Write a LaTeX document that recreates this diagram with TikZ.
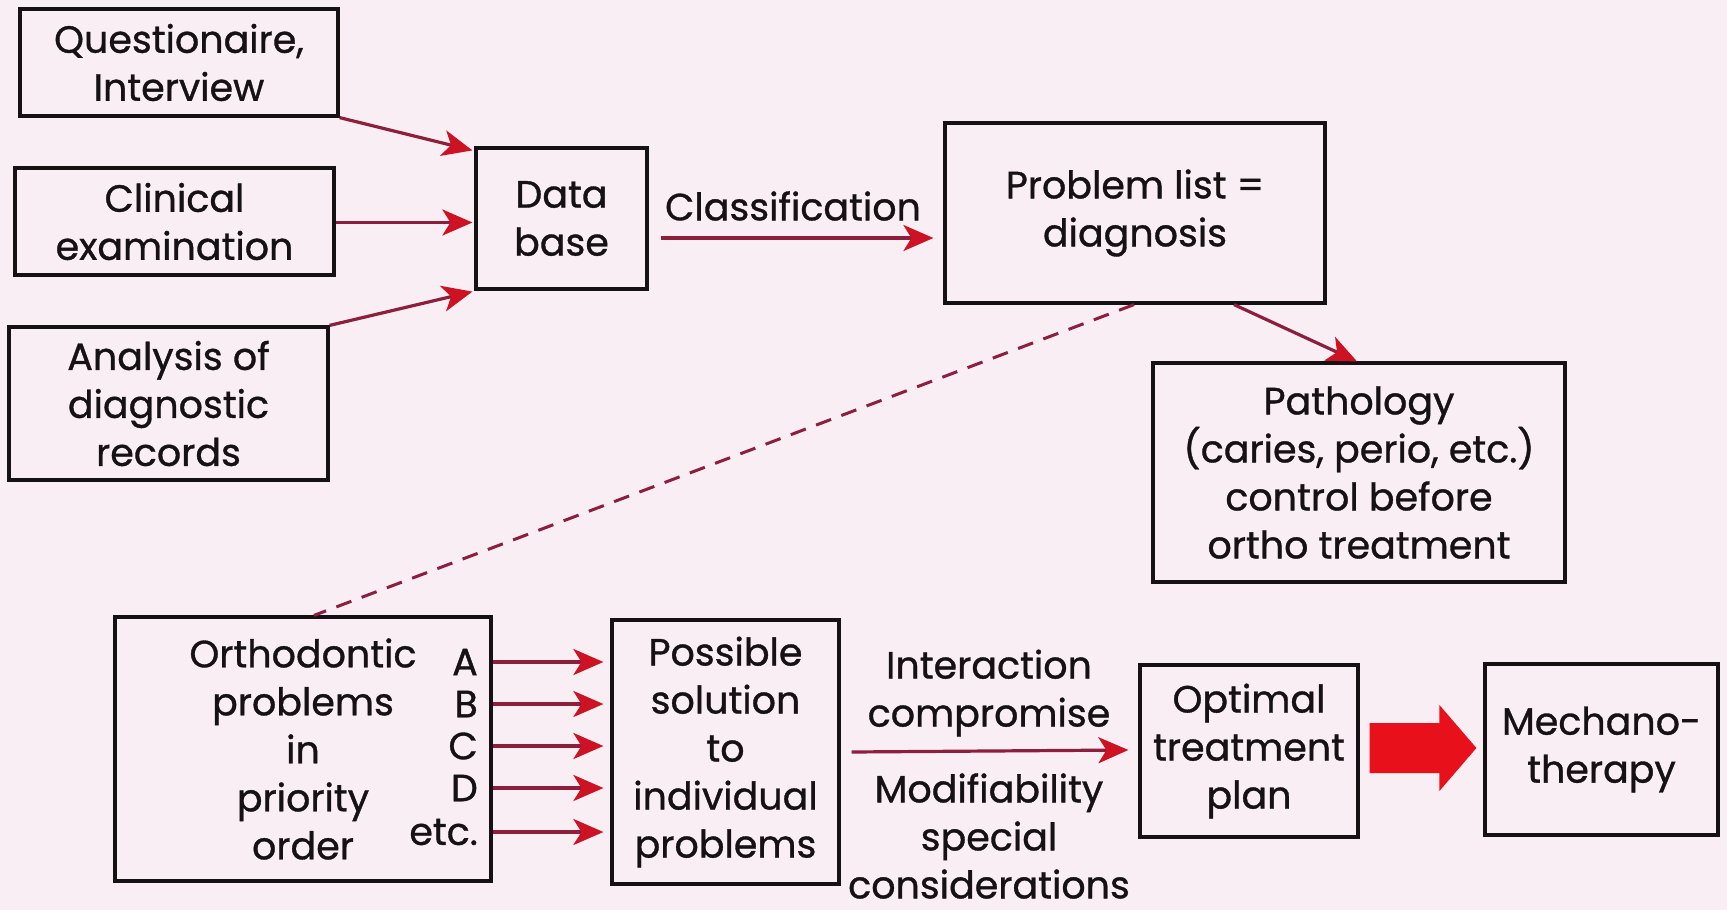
\documentclass[tikz,border=0pt]{standalone}
\usepackage{fontspec}
\setmainfont{Poppins}[FakeBold=0.9]
\usetikzlibrary{arrows.meta,calc}
\definecolor{bgpink}{RGB}{249,238,244}
\definecolor{lnred}{RGB}{140,30,62}
\definecolor{tipred}{RGB}{205,18,36}
\definecolor{bigred}{RGB}{232,16,26}
\definecolor{ink}{RGB}{22,18,20}
\begin{document}
\begin{tikzpicture}[x=1pt,y=-1pt,
  box/.style={draw=ink, line width=3.2pt, align=center, inner sep=0pt, text=ink,
    font=\fontsize{38}{48}\selectfont},
  lbl/.style={align=center, inner sep=0pt, text=ink, font=\fontsize{38}{48}\selectfont},
  arr/.style={draw=lnred, line width=3.2pt,
    -{Stealth[length=30pt,width=26pt,inset=8pt,color=tipred]}},
  dsh/.style={draw=lnred, line width=3pt, dash pattern=on 16pt off 11pt}]
\fill[bgpink] (0,0) rectangle (1727,910);
\useasboundingbox (0,0) rectangle (1727,910);

% top-left inputs
\node[box, minimum width=318pt, minimum height=107pt] (q) at (179,62.5) {Questionaire,\\Interview};
\node[box, minimum width=319pt, minimum height=107pt] (ce) at (174.5,221.5) {Clinical\\examination};
\node[box, minimum width=319pt, minimum height=153pt] (an) at (168.5,403.5) {Analysis of\\diagnostic\\records};
\node[box, minimum width=171pt, minimum height=141pt] (db) at (561.5,218.5) {Data\\base};
\node[box, minimum width=380pt, minimum height=180pt] (pl) at (1135,213) {Problem list =\\diagnosis};
\node[box, minimum width=412pt, minimum height=219pt] (pa) at (1359,472.5) {Pathology\\(caries, perio, etc.)\\control before\\ortho treatment};

% bottom row
\node[box, minimum width=376pt, minimum height=264pt, text width=376pt] (or) at (303,749) {Orthodontic\\problems\\in\\priority\\order};
\node[box, minimum width=227pt, minimum height=264pt] (ps) at (725.5,752) {Possible\\solution\\to\\individual\\problems};
\node[box, minimum width=218pt, minimum height=172pt] (op) at (1249,751) {Optimal\\treatment\\plan};
\node[box, minimum width=233pt, minimum height=171pt] (me) at (1601.5,749.5) {Mechano-\\therapy};

% letters
\node[lbl, anchor=east] (la) at (478,662) {A};
\node[lbl, anchor=east] (lb) at (478,704) {B};
\node[lbl, anchor=east] (lc) at (478,746) {C};
\node[lbl, anchor=east] (ld) at (478,788) {D};
\node[lbl, anchor=east] (le) at (478,832) {etc.};

% labels
\node[lbl] (cls) at (793,206) {Classification};
\node[lbl] (ic) at (989,693) {Interaction\\compromise};
\node[lbl] (ms) at (989,836) {Modifiability\\special\\considerations};

% connectors
\draw[arr] (q.south east) -- ($(db.north west)+(-2,4)$);
\draw[arr] ($(ce.east)+(0,1)$) -- ($(db.west)+(-2,4)$);
\draw[arr] (an.north east) -- ($(db.south west)+(-2,1)$);
\draw[arr] ($(db.east)+(12,19.5)$) -- ($(pl.west)+(-10,25)$);
\draw[arr] ($(pl.south)+(99,0)$) -- ($(pa.north)+(-2,0)$);
\draw[dsh] ($(pl.south)+(-1,0)$) -- ($(or.north)+(11,0)$);

\foreach \l in {la,lb,lc,ld,le}{
  \draw[arr] (or.east |- \l) -- ($(ps.west |- \l)+(-7,0)$);
}
\draw[arr] ($(ps.east)+(11,0)$) -- ($(op.west)+(-10,-1)$);

% big arrow
\coordinate (bs) at ($(op.east)+(10,-3)$);
\coordinate (bt) at ($(me.west)+(-7,-1.5)$);
\fill[bigred] ($(bs)+(0,-25)$) -- ($(bt)+(-37,-25)$) -- ($(bt)+(-37,-43)$) -- (bt)
  -- ($(bt)+(-37,43)$) -- ($(bt)+(-37,25)$) -- ($(bs)+(0,25)$) -- cycle;
\end{tikzpicture}
\end{document}
